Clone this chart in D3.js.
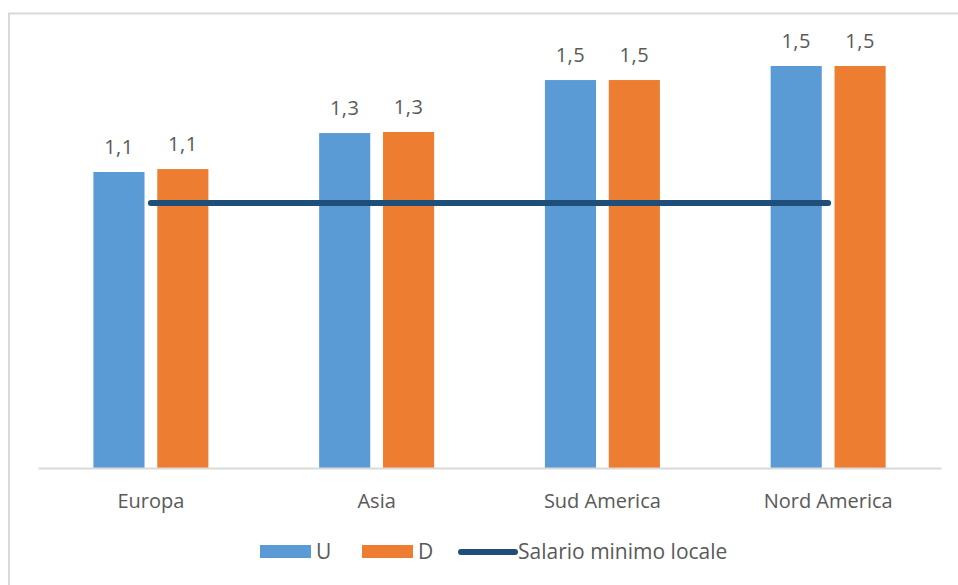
<!DOCTYPE html>
<html>
<head>
<meta charset="utf-8">
<script src="https://cdn.jsdelivr.net/npm/d3@7"></script>
<style>
  html, body { margin: 0; padding: 0; background: #ffffff; }
  svg { display: block; }
  text { font-family: "Open Sans", sans-serif; fill: #595959; }
</style>
</head>
<body>
<svg id="chart" width="958" height="585"></svg>
<script>
const categories = ["Europa", "Asia", "Sud America", "Nord America"];
const seriesNames = ["U", "D"];
const valuesU = [1.117, 1.264, 1.464, 1.517];
const valuesD = [1.128, 1.268, 1.464, 1.517];
const salarioMinimo = [1.0, 1.0, 1.0, 1.0];
const lineName = "Salario minimo locale";

const colors = { U: "#5B9BD5", D: "#ED7D31", line: "#1F4E79" };

const svg = d3.select("#chart");

// outer frame (partially visible)
svg.append("path")
  .attr("d", "M9,600 L9,13.5 L970,13.5")
  .attr("fill", "none")
  .attr("stroke", "#d9d9d9")
  .attr("stroke-width", 2);

const x0 = d3.scaleBand().domain(categories).range([38, 941]).padding(0);
const x1 = d3.scaleBand().domain(seriesNames)
  .range([55.4, 170.4]).paddingInner(0.2).paddingOuter(0);
const y = d3.scaleLinear().domain([0, 1.6]).range([468, 44]);

const fmt = v => d3.format(".1f")(v).replace(".", ",");

const data = categories.map((c, i) => ({
  cat: c,
  vals: [{ s: "U", v: valuesU[i] }, { s: "D", v: valuesD[i] }]
}));

const groups = svg.append("g").selectAll("g").data(data).join("g")
  .attr("transform", d => `translate(${x0(d.cat)},0)`);

groups.selectAll("rect").data(d => d.vals).join("rect")
  .attr("x", d => x1(d.s))
  .attr("width", x1.bandwidth())
  .attr("y", d => y(d.v))
  .attr("height", d => y(0) - y(d.v))
  .attr("fill", d => colors[d.s]);

groups.selectAll("text.lbl").data(d => d.vals).join("text")
  .attr("class", "lbl")
  .attr("x", d => x1(d.s) + x1.bandwidth() / 2)
  .attr("y", d => y(d.v) - 18)
  .attr("text-anchor", "middle")
  .style("font-size", "20px")
  .style("letter-spacing", "0.5px")
  .text(d => fmt(d.v));

// x axis
const xAxis = d3.axisBottom(x0).tickSize(0).tickPadding(0);
const ax = svg.append("g").attr("transform", `translate(0,${y(0)})`).call(xAxis);
ax.select(".domain").attr("stroke", "#d9d9d9").attr("stroke-width", 2);
ax.selectAll(".tick text")
  .attr("y", 40)
  .attr("dy", null)
  .style("font-size", "20px")
  .style("font-family", '"Open Sans", sans-serif')
  .attr("fill", "#595959");

// line series
const line = d3.line()
  .x((d, i) => x0(categories[i]) + x0.bandwidth() / 2)
  .y(d => y(d));
svg.append("path")
  .datum(salarioMinimo)
  .attr("d", line)
  .attr("fill", "none")
  .attr("stroke", colors.line)
  .attr("stroke-width", 6)
  .attr("stroke-linecap", "round");

// legend
const leg = svg.append("g");
const legItems = [
  { type: "rect", key: "U", label: "U", x: 260 },
  { type: "rect", key: "D", label: "D", x: 362 }
];
legItems.forEach(it => {
  leg.append("rect").attr("x", it.x).attr("y", 545).attr("width", 51).attr("height", 13)
    .attr("fill", colors[it.key]);
  leg.append("text").attr("x", it.x + 56).attr("y", 559)
    .style("font-size", "21px").text(it.label);
});
leg.append("line").attr("x1", 461).attr("x2", 515).attr("y1", 552).attr("y2", 552)
  .attr("stroke", colors.line).attr("stroke-width", 6).attr("stroke-linecap", "round");
leg.append("text").attr("x", 518).attr("y", 559)
  .style("font-size", "21px").text(lineName);
</script>
</body>
</html>
